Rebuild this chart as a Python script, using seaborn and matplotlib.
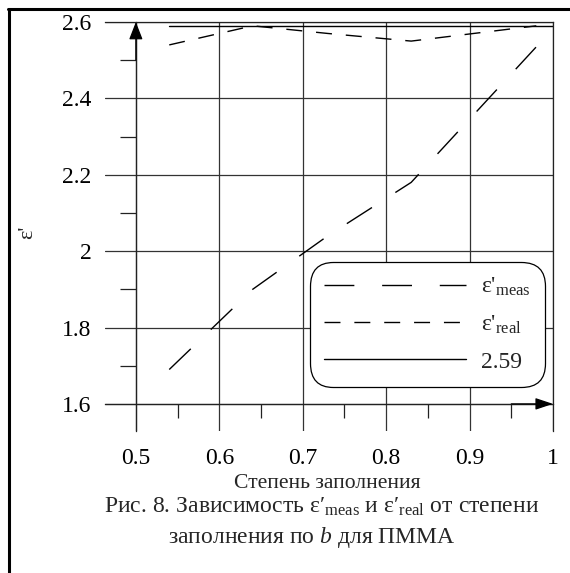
import numpy as np
import pandas as pd
import matplotlib
matplotlib.use("Agg")
import matplotlib.pyplot as plt
import seaborn as sns
from matplotlib.lines import Line2D

# fill degree (x) and permittivity curves
fill = [0.54, 0.64, 0.73, 0.83, 0.98]
eps_meas = [1.69, 1.90, 2.04, 2.18, 2.535]
eps_real = [2.54, 2.59, 2.57, 2.55, 2.59]
ref_x = [0.54, 1.0]
ref_level = 2.59

x_ticks = [0.5, 0.6, 0.7, 0.8, 0.9, 1.0]
x_labels = ["0.5", "0.6", "0.7", "0.8", "0.9", "1"]
y_ticks = [1.6, 1.8, 2.0, 2.2, 2.4, 2.6]
y_labels = ["1.6", "1.8", "2", "2.2", "2.4", "2.6"]

sns.set_theme(style="white")
plt.rcParams["font.family"] = ["Liberation Serif", "DejaVu Serif"]
plt.rcParams["mathtext.fontset"] = "custom"
plt.rcParams["mathtext.rm"] = "Liberation Serif"
plt.rcParams["mathtext.it"] = "Liberation Serif:italic"
plt.rcParams["mathtext.default"] = "regular"

fig = plt.figure(figsize=(5.7, 5.73), dpi=100)
ax = fig.add_axes([105 / 570, 1 - 431 / 573, (553 - 105) / 570, (431 - 22) / 573])

lw = 1.0
df_meas = pd.DataFrame({"x": fill, "y": eps_meas})
df_real = pd.DataFrame({"x": fill, "y": eps_real})
df_ref = pd.DataFrame({"x": ref_x, "y": [ref_level] * len(ref_x)})

sns.lineplot(data=df_meas, x="x", y="y", ax=ax, color="black", lw=lw,
             estimator=None, sort=False)
ax.lines[-1].set_dashes((21.5, 20))
sns.lineplot(data=df_real, x="x", y="y", ax=ax, color="black", lw=lw,
             estimator=None, sort=False)
ax.lines[-1].set_dashes((11.5, 10))
sns.lineplot(data=df_ref, x="x", y="y", ax=ax, color="black", lw=lw,
             estimator=None, sort=False)

ax.set_xlim(0.463, 1.0)
ax.set_ylim(1.529, 2.6)

for side in ["top", "right", "left", "bottom"]:
    ax.spines[side].set_color("#222222")
    ax.spines[side].set_linewidth(0.9)
ax.spines["left"].set_position(("data", 0.5))
ax.spines["bottom"].set_position(("data", 1.6))

ax.set_xticks(x_ticks)
ax.set_xticklabels(x_labels)
ax.set_yticks(y_ticks)
ax.set_yticklabels(y_labels)
ax.set_xticks(np.arange(0.55, 1.0, 0.1), minor=True)
ax.set_yticks(np.arange(1.7, 2.6, 0.2), minor=True)
ax.tick_params(axis="x", which="major", length=0, pad=32, labelsize=17, colors="black")
ax.tick_params(axis="y", which="major", length=0, pad=32, labelsize=17, colors="black")
ax.tick_params(axis="x", which="minor", direction="out", length=10, width=0.9,
               color="#222222", bottom=True)
ax.tick_params(axis="y", which="minor", direction="out", length=11.5, width=0.9,
               color="#222222", left=True)
ax.grid(True, which="major", color="#333333", lw=0.9)
ax.set_xlabel("")
ax.set_ylabel("")

# axis arrows
ax.annotate("", xy=(0.5, 2.6), xytext=(0.5, 2.5),
            arrowprops=dict(arrowstyle="-|>,head_length=0.9,head_width=0.35",
                            color="black", lw=0.9, shrinkA=0, shrinkB=0))
ax.annotate("", xy=(1.0, 1.6), xytext=(0.95, 1.6),
            arrowprops=dict(arrowstyle="-|>,head_length=0.9,head_width=0.3",
                            color="black", lw=0.9, shrinkA=0, shrinkB=0))

handles = [
    Line2D([], [], color="black", lw=lw, dashes=(21.5, 20)),
    Line2D([], [], color="black", lw=lw, dashes=(11.5, 10)),
    Line2D([], [], color="black", lw=lw),
]
labels = ["ε'$_{meas}$", "ε'$_{real}$", "2.59"]
leg = fig.legend(handles, labels, loc="upper right",
                 bbox_to_anchor=(545 / 570, 1 - 262 / 573),
                 fontsize=17, handlelength=6.0, handletextpad=0.65,
                 borderpad=0.6, labelspacing=0.64, frameon=True, fancybox=True,
                 borderaxespad=0)
frame = leg.get_frame()
frame.set_edgecolor("black")
frame.set_linewidth(0.9)
frame.set_facecolor("white")
frame.set_alpha(1)
frame.set_boxstyle("round", pad=0, rounding_size=1.0)

fig.text(28 / 570, 1 - 232 / 573, "ε'", rotation=90, fontsize=16,
         ha="center", va="center")
fig.text(327 / 570, 1 - 484 / 573, "Степень заполнения", fontsize=15.6,
         ha="center", va="center")
fig.text(322 / 570, 1 - 507 / 573,
         "Рис. 8. Зависимость ε′$_{meas}$ и ε′$_{real}$ от степени",
         fontsize=17, ha="center", va="center")
fig.text(312 / 570, 1 - 538 / 573,
         "заполнения по $\\mathit{b}$ для ПММА",
         fontsize=17, ha="center", va="center")

# page border (left and top edges)
fig.add_artist(Line2D([8.5 / 570, 8.5 / 570], [0, 1 - 8.5 / 573],
                      transform=fig.transFigure, color="black", lw=2.2))
fig.add_artist(Line2D([7.5 / 570, 1], [1 - 8.5 / 573, 1 - 8.5 / 573],
                      transform=fig.transFigure, color="black", lw=2.2))

fig.savefig("out.png", dpi=100, facecolor="white")
